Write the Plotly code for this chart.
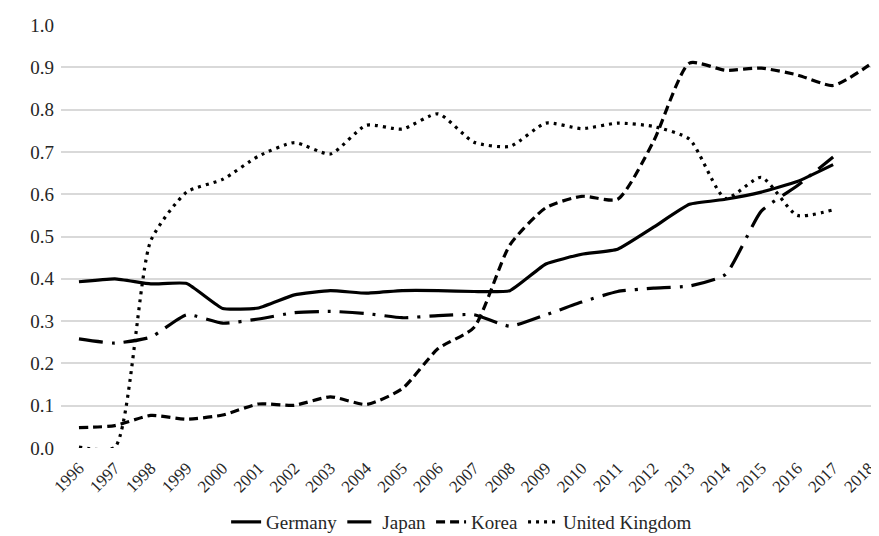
import plotly.graph_objects as go

years = list(range(1996, 2019))
germany = [0.393, 0.400, 0.388, 0.389, 0.330, 0.331, 0.362, 0.372, 0.366, 0.372, 0.372, 0.370, 0.372,
           0.435, 0.458, 0.470, 0.522, 0.576, 0.588, 0.605, 0.630, 0.670]
japan = [0.258, 0.248, 0.262, 0.315, 0.295, 0.305, 0.320, 0.323, 0.318, 0.308, 0.313, 0.315, 0.288,
         0.315, 0.345, 0.370, 0.378, 0.383, 0.410, 0.560, 0.620, 0.688]
korea = [0.048, 0.053, 0.077, 0.068, 0.078, 0.104, 0.101, 0.121, 0.103, 0.140, 0.235, 0.285, 0.480,
         0.568, 0.595, 0.588, 0.725, 0.910, 0.893, 0.898, 0.882, 0.857, 0.905]
uk = [0.002, 0.002, 0.490, 0.605, 0.635, 0.690, 0.722, 0.695, 0.763, 0.754, 0.790, 0.723, 0.713,
      0.768, 0.755, 0.768, 0.760, 0.730, 0.590, 0.640, 0.550, 0.563]
yticks = [i / 10 for i in range(11)]

SERIF = "Liberation Serif, DejaVu Serif, Times New Roman, serif"

fig = go.Figure()
fig.add_trace(go.Scatter(x=years[:len(germany)], y=germany, name="Germany", mode="lines",
                         line=dict(color="black", width=3.2, shape="spline", smoothing=0.4)))
fig.add_trace(go.Scatter(x=years[:len(japan)], y=japan, name="Japan", mode="lines",
                         line=dict(color="black", width=3.2, dash="24px,9px,3px,9px", shape="spline", smoothing=0.5)))
fig.add_trace(go.Scatter(x=years[:len(korea)], y=korea, name="Korea", mode="lines",
                         line=dict(color="black", width=3.2, dash="9px,5px", shape="spline", smoothing=0.6)))
fig.add_trace(go.Scatter(x=years[:len(uk)], y=uk, name="United Kingdom", mode="lines",
                         line=dict(color="black", width=3.2, dash="3px,5px", shape="spline", smoothing=0.6)))

fig.update_layout(
    width=879, height=536,
    margin=dict(l=53, r=0, t=17, b=96),
    paper_bgcolor="white", plot_bgcolor="white",
    font=dict(family=SERIF, size=17, color="#262626"),
    showlegend=True,
    legend=dict(orientation="h", x=0.485, xanchor="center", y=-0.175, yanchor="middle",
                font=dict(family=SERIF, size=19), tracegroupgap=0),
    xaxis=dict(range=[1995.5, 2018.5], tickmode="array", tickvals=years,
               ticktext=[str(y) for y in years], tickangle=-45, showgrid=False,
               showline=False, zeroline=False, ticks="", ticklabelstandoff=6,
               tickfont=dict(size=17)),
    yaxis=dict(range=[0, 1.0], tickmode="array", tickvals=yticks,
               ticktext=[f"{v:.1f}" for v in yticks], showgrid=True, gridcolor="#d9d9d9",
               gridwidth=1.5, zeroline=False, showline=False, ticks="", ticklabelstandoff=6,
               tickfont=dict(size=19)),
)
fig.write_html("out.html")
